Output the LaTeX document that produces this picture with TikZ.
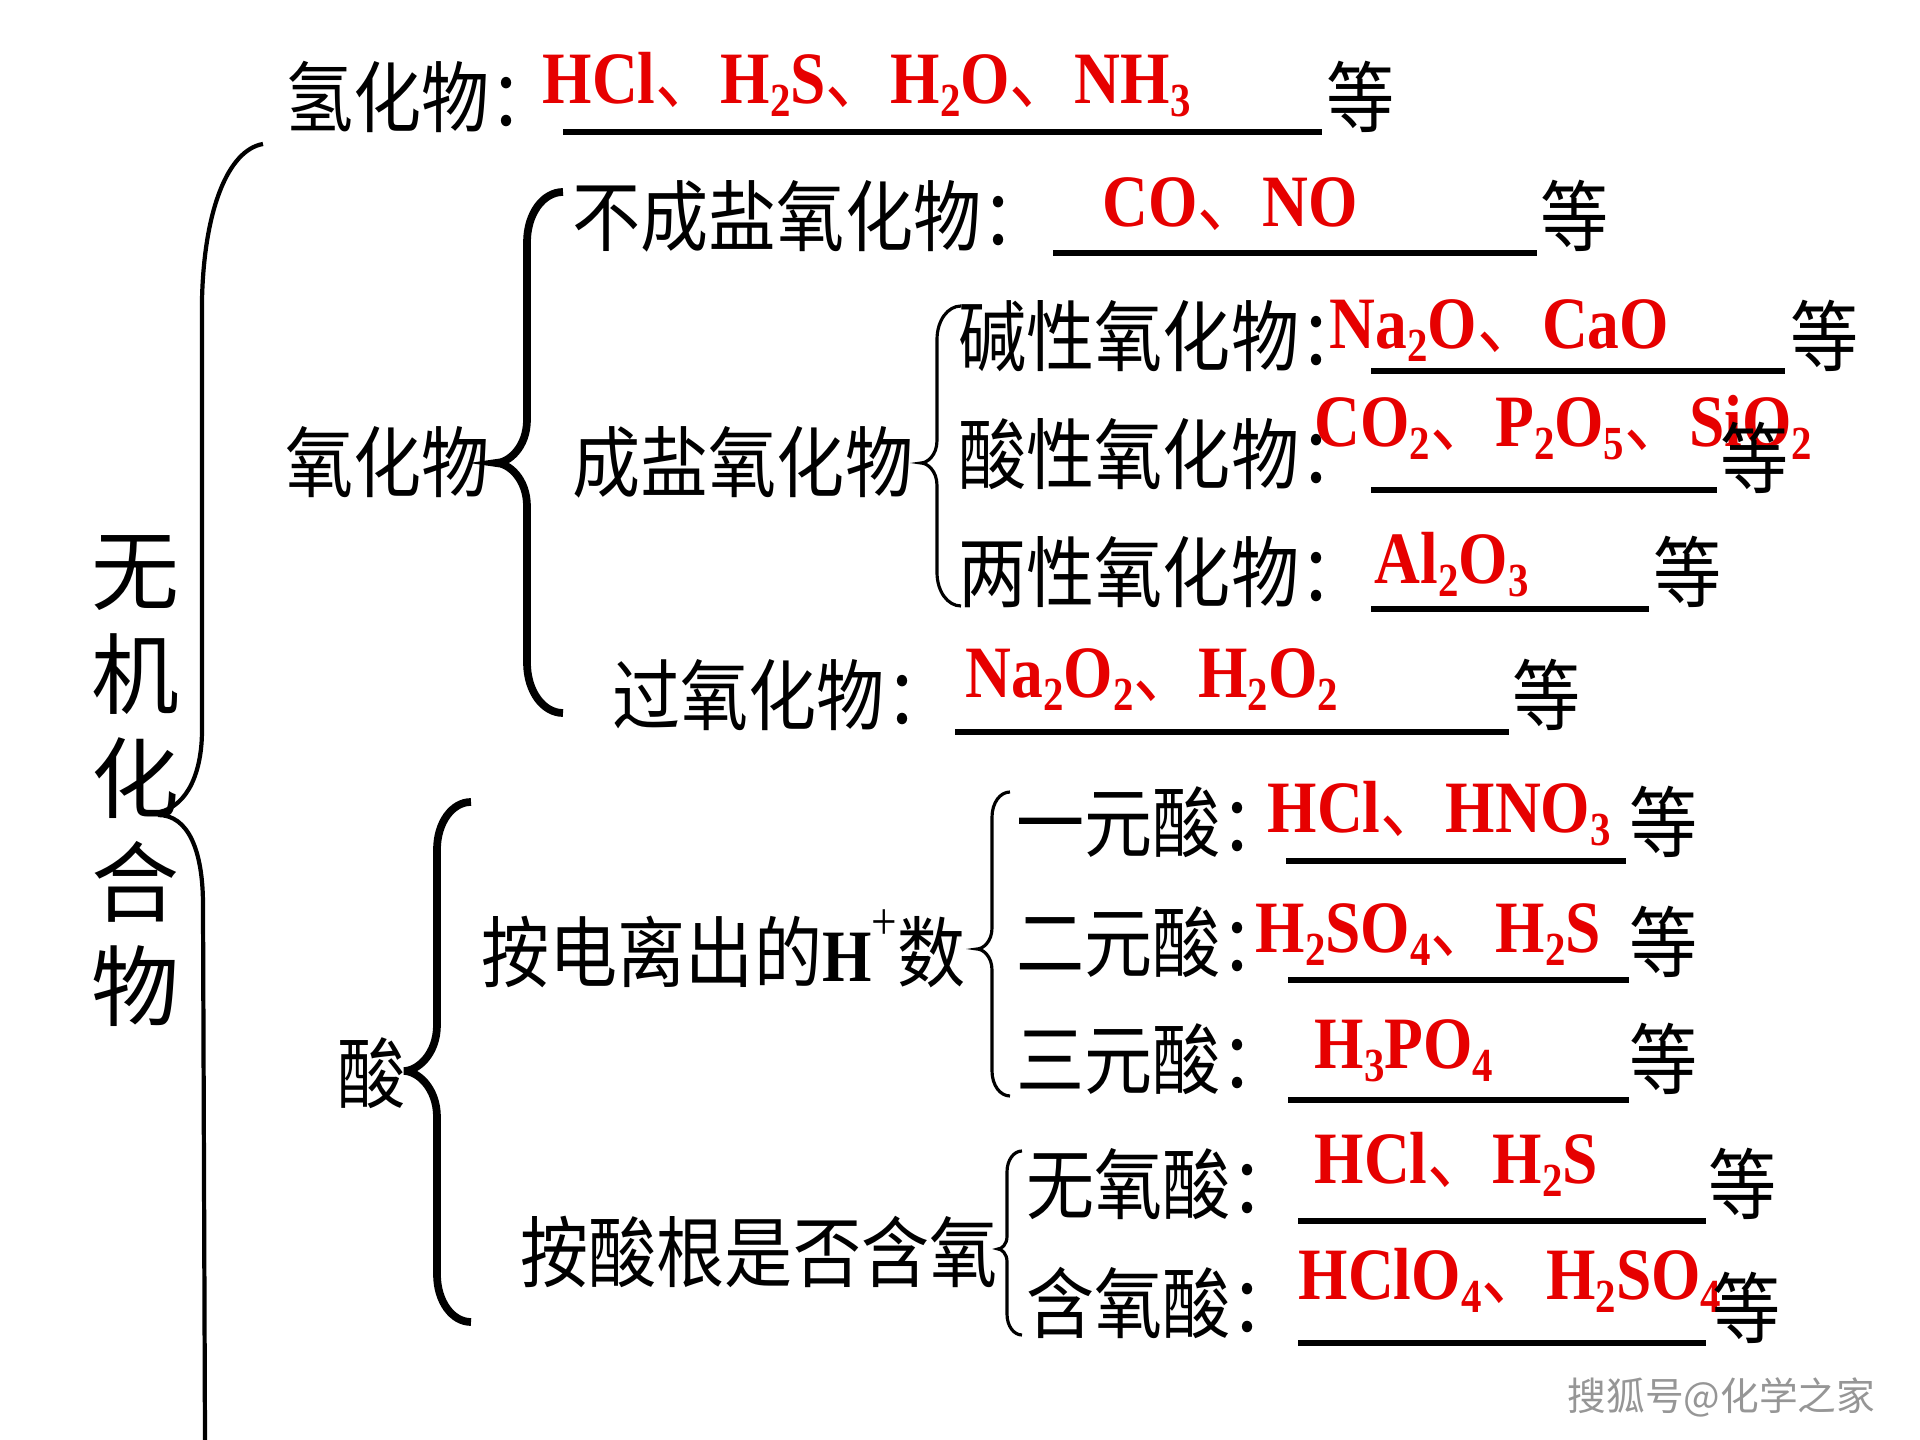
\documentclass[tikz,border=0pt]{standalone}
\usepackage{fontspec}
\usepackage{graphicx}
\newfontfamily\cjk[FakeStretch=0.88]{Noto Sans CJK SC}
\newfontfamily\cjkv{Noto Sans CJK SC}
\newfontfamily\chem[FakeStretch=0.86]{Liberation Serif}
\definecolor{chemred}{RGB}{230,0,0}
\definecolor{wmgray}{RGB}{150,150,150}
\newcommand\sbs[1]{\raisebox{-3.5pt}{\fontsize{13.5}{14}\selectfont #1}}
\newcommand\dun{{\cjk\mdseries 、}}
% #1 style, #2 xend, #3 ytop, #4 ybot, #5 xstem, #6 xcusp, #7 ymid
\newcommand\mybrace[7][]{%
  \draw[#1] (#2,#3) .. controls ({#5+0.45*(#2-#5)},#3) and (#5,{#3+0.6*(#2-#5)}) .. (#5,{#3+1.4*(#2-#5)})
   -- (#5,{#7-1.4*(#5-#6)}) .. controls (#5,{#7-0.5*(#5-#6)}) and ({#6+0.4*(#5-#6)},#7) .. (#6,#7)
   .. controls ({#6+0.4*(#5-#6)},#7) and (#5,{#7+0.5*(#5-#6)}) .. (#5,{#7+1.4*(#5-#6)})
   -- (#5,{#4-1.4*(#2-#5)}) .. controls (#5,{#4-0.6*(#2-#5)}) and ({#5+0.45*(#2-#5)},#4) .. (#2,#4);}
\tikzset{
  zh/.style={inner sep=0pt, anchor=base west, font={\cjk\fontsize{22}{24}\selectfont}},
  chemf/.style={inner sep=0pt, anchor=base west, text=chemred, font={\chem\bfseries\fontsize{21}{24}\selectfont}},
  uline/.style={line width=1.5pt},
  thickbrace/.style={line width=2.2pt},
  thinbrace/.style={line width=0.9pt},
  bigbrace/.style={line width=1.2pt},
}
\begin{document}
\begin{tikzpicture}[x=0.01cm,y=-0.01cm]
\useasboundingbox[fill=white] (0,0) rectangle (1920,1440);

% vertical title
\node[inner sep=0pt, align=center, font={\cjkv\fontsize{25}{29.6}\selectfont}] (title) at (135,781) {无\\机\\化\\合\\物};

% big bracket
\draw[bigbrace] (263,144) .. controls (228,150) and (204,210) .. (202,300) -- (202,730)
  .. controls (202,772) and (188,805) .. (160,812);
\draw[bigbrace] (158,815) .. controls (188,815) and (203,850) .. (203,905) -- (205,1440);

% row 1
\node[zh] (hyd) at (285,127) {氢化物：};
\node[chemf] (hydx) at (542,104) {HCl\dun H\sbs{2}S\dun H\sbs{2}O\dun NH\sbs{3}};
\draw[uline] (563,132) -- (1322,132);
\node[zh] (hyddeng) at (1326,127) {等};

% oxides
\node[zh] (ox) at (285,492) {氧化物};
\mybrace[thickbrace]{563}{192}{713}{527}{496}{463}

\node[zh] (ncs) at (572,246) {不成盐氧化物：};
\node[chemf] (ncsx) at (1102,227) {CO\dun NO};
\draw[uline] (1053,253) -- (1537,253);
\node[zh] (ncsdeng) at (1540,246) {等};

\node[zh] (cs) at (572,492) {成盐氧化物};
\mybrace[thinbrace]{961}{306}{606}{937}{921}{463}

\node[zh] (bas) at (958,366) {碱性氧化物：};
\node[chemf] (basx) at (1329,349) {Na\sbs{2}O\dun CaO};
\draw[uline] (1371,371) -- (1785,371);
\node[zh] (basdeng) at (1790,366) {等};

\node[zh] (aci) at (958,484) {酸性氧化物：};
\node[chemf] (acix) at (1314,447) {CO\sbs{2}\dun P\sbs{2}O\sbs{5}\dun SiO\sbs{2}};
\draw[uline] (1371,490) -- (1717,490);
\node[zh] (acideng) at (1720,488) {等};

\node[zh] (amp) at (958,602) {两性氧化物：};
\node[chemf] (ampx) at (1374,584) {Al\sbs{2}O\sbs{3}};
\draw[uline] (1371,609) -- (1649,609);
\node[zh] (ampdeng) at (1653,602) {等};

\node[zh] (per) at (612,725) {过氧化物：};
\node[chemf] (perx) at (965,698) {Na\sbs{2}O\sbs{2}\dun H\sbs{2}O\sbs{2}};
\draw[uline] (955,732) -- (1509,732);
\node[zh] (perdeng) at (1512,725) {等};

% acids
\node[zh] (acid) at (337,1103) {酸};
\mybrace[thickbrace]{471}{802}{1322}{437}{404}{1071}

\node[zh] (byh) at (481,982) {按电离出的{\chem\bfseries\fontsize{21}{24}\selectfont H\raisebox{12pt}{\mdseries\fontsize{15}{15}\selectfont +}}数};
\mybrace[thinbrace]{1010}{792}{1096}{992}{977}{949}

\node[zh] (one) at (1016,852) {一元酸：};
\node[chemf] (onex) at (1267,833) {HCl\dun HNO\sbs{3}};
\draw[uline] (1286,861) -- (1626,861);
\node[zh] (onedeng) at (1629,852) {等};

\node[zh] (two) at (1016,972) {二元酸：};
\node[chemf] (twox) at (1255,953) {H\sbs{2}SO\sbs{4}\dun H\sbs{2}S};
\draw[uline] (1288,980) -- (1629,980);
\node[zh] (twodeng) at (1629,972) {等};

\node[zh] (three) at (1016,1089) {三元酸：};
\node[chemf] (threex) at (1314,1069) {H\sbs{3}PO\sbs{4}};
\draw[uline] (1288,1100) -- (1629,1100);
\node[zh] (threedeng) at (1629,1089) {等};

\node[zh] (byo) at (520,1282) {按酸根是否含氧};
\mybrace[thinbrace]{1022}{1151}{1335}{1007}{998}{1249}

\node[zh] (noo) at (1026,1214) {无氧酸：};
\node[chemf] (noox) at (1314,1184) {HCl\dun H\sbs{2}S};
\draw[uline] (1298,1221) -- (1706,1221);
\node[zh] (noodeng) at (1708,1214) {等};

\node[zh] (wio) at (1026,1333) {含氧酸：};
\node[chemf] (wiox) at (1298,1300) {HClO\sbs{4}\dun H\sbs{2}SO\sbs{4}};
\draw[uline] (1298,1343) -- (1706,1343);
\node[zh] (wiodeng) at (1712,1337) {等};

% watermark
\node[inner sep=0pt, anchor=base west, text=wmgray, font={\cjkv\fontsize{11}{12}\selectfont}] (wm) at (1567,1410) {搜狐号@化学之家};
\end{tikzpicture}
\end{document}
